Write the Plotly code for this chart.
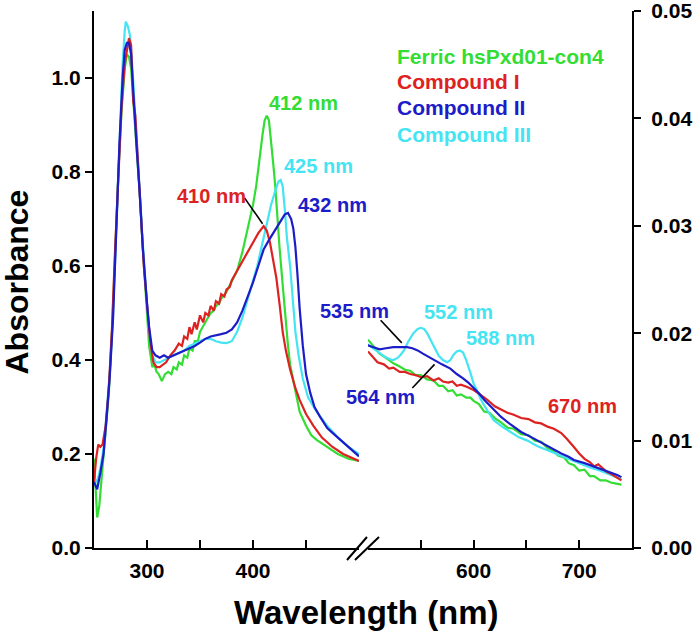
import plotly.graph_objects as go

# ---------------- data ----------------
# Left segment (250-500 nm), absorbance on left axis
green_nm_L = [250, 252, 253, 255, 258, 261, 264, 267, 270, 273, 276, 279, 281, 283, 285, 287, 290, 293, 296, 299,
              302, 305, 307, 309, 311, 314, 317, 320, 323, 325, 328, 330, 333, 335, 338, 340, 343, 345, 348, 350,
              355, 360, 363, 365, 368, 370, 375, 381, 385, 390, 395, 400, 403, 406, 409, 411, 413, 415, 417, 419,
              421, 423, 425, 428, 430, 433, 435, 440, 444, 450, 455, 460, 470, 480, 490, 500]
green_A_L = [0.19, 0.10, 0.065, 0.09, 0.17, 0.24, 0.33, 0.46, 0.64, 0.80, 0.93, 1.02, 1.05, 1.045, 1.02, 0.96, 0.86, 0.76, 0.64, 0.53,
             0.43, 0.385, 0.39, 0.375, 0.37, 0.355, 0.37, 0.375, 0.37, 0.385, 0.38, 0.395, 0.39, 0.41, 0.405, 0.425, 0.42, 0.44, 0.44, 0.46,
             0.48, 0.50, 0.505, 0.515, 0.52, 0.53, 0.545, 0.57, 0.59, 0.63, 0.68, 0.73, 0.77, 0.83, 0.88, 0.91, 0.92, 0.91, 0.87, 0.82,
             0.77, 0.70, 0.64, 0.56, 0.50, 0.43, 0.39, 0.33, 0.29, 0.26, 0.24, 0.23, 0.215, 0.20, 0.19, 0.185]

red_nm_L = [250, 252, 254, 256, 258, 261, 264, 267, 270, 273, 276, 279, 281, 283, 285, 287, 289, 291, 294, 297,
            300, 303, 306, 309, 312, 315, 318, 322, 326, 330, 333, 335, 338, 340, 342, 345, 347, 350, 353, 355,
            358, 360, 363, 365, 368, 370, 373, 375, 378, 380, 385, 390, 395, 400, 405, 410, 413, 416, 419, 422,
            425, 428, 431, 435, 440, 444, 450, 457, 465, 475, 485, 490, 500]
red_A_L = [0.14, 0.19, 0.22, 0.215, 0.22, 0.26, 0.34, 0.47, 0.64, 0.80, 0.94, 1.03, 1.06, 1.085, 1.07, 0.95, 0.92, 0.84, 0.72, 0.60,
           0.52, 0.44, 0.395, 0.385, 0.385, 0.39, 0.395, 0.41, 0.42, 0.435, 0.43, 0.45, 0.445, 0.47, 0.455, 0.48, 0.465, 0.495, 0.48, 0.50,
           0.495, 0.515, 0.505, 0.525, 0.52, 0.54, 0.535, 0.55, 0.555, 0.57, 0.59, 0.61, 0.63, 0.65, 0.67, 0.685, 0.675, 0.65, 0.615, 0.575,
           0.52, 0.46, 0.42, 0.38, 0.34, 0.315, 0.285, 0.26, 0.235, 0.215, 0.20, 0.195, 0.185]

cyan_nm_L = [250, 253, 256, 259, 262, 265, 268, 271, 274, 277, 279, 280, 282, 284, 286, 288, 290, 293, 296, 299,
             302, 305, 308, 312, 316, 320, 325, 330, 335, 340, 345, 350, 355, 360, 365, 370, 375, 380, 385, 390,
             395, 400, 404, 408, 413, 417, 421, 424, 426, 428, 430, 432, 435, 438, 440, 443, 447, 452, 460, 470,
             480, 490, 500]
cyan_A_L = [0.15, 0.14, 0.17, 0.21, 0.29, 0.38, 0.50, 0.69, 0.88, 1.03, 1.10, 1.12, 1.11, 1.09, 1.03, 0.95, 0.87, 0.76, 0.65, 0.55,
            0.46, 0.41, 0.395, 0.395, 0.40, 0.405, 0.41, 0.415, 0.42, 0.43, 0.435, 0.44, 0.445, 0.445, 0.44, 0.437, 0.436, 0.44, 0.46, 0.49,
            0.53, 0.57, 0.60, 0.64, 0.69, 0.73, 0.76, 0.78, 0.783, 0.77, 0.72, 0.66, 0.60, 0.52, 0.46, 0.41, 0.36, 0.32, 0.29, 0.26,
            0.235, 0.215, 0.20]

blue_nm_L = [250, 253, 256, 259, 262, 265, 268, 271, 274, 277, 279, 281, 283, 285, 287, 290, 293, 296, 300, 302,
             305, 308, 312, 316, 320, 325, 330, 335, 340, 345, 350, 355, 360, 365, 370, 375, 380, 385, 390, 395,
             400, 405, 410, 415, 419, 423, 427, 430, 433, 436, 438, 440, 442, 444, 447, 450, 454, 458, 463, 470,
             475, 485, 490, 500]
blue_A_L = [0.14, 0.125, 0.16, 0.20, 0.28, 0.37, 0.49, 0.68, 0.86, 1.00, 1.06, 1.075, 1.075, 1.05, 0.97, 0.86, 0.76, 0.64, 0.52, 0.47,
            0.42, 0.41, 0.405, 0.41, 0.405, 0.41, 0.415, 0.42, 0.425, 0.43, 0.437, 0.445, 0.45, 0.452, 0.455, 0.458, 0.465, 0.48, 0.505, 0.535,
            0.565, 0.60, 0.635, 0.655, 0.67, 0.685, 0.70, 0.71, 0.713, 0.70, 0.68, 0.64, 0.58, 0.51, 0.43, 0.37, 0.33, 0.30, 0.28, 0.255,
            0.245, 0.225, 0.215, 0.195]

# Right segment (500-740 nm), absorbance on right axis
green_nm_R = [500, 505, 511, 517, 524, 530, 535, 540, 545, 550, 556, 562, 567, 571, 576, 580, 584, 588, 593, 597,
              600, 605, 610, 615, 620, 626, 632, 638, 645, 652, 658, 664, 670, 676, 680, 686, 690, 695, 700, 705,
              710, 714, 720, 725, 730, 735, 740]
green_v_R = [0.0194, 0.0188, 0.0181, 0.0177, 0.0172, 0.0169, 0.0166, 0.0165, 0.0161, 0.0161, 0.0157, 0.0156, 0.0151, 0.0151, 0.0146, 0.0147, 0.0142, 0.0143, 0.0140, 0.0140,
             0.0137, 0.0134, 0.0127, 0.0126, 0.0121, 0.0117, 0.0112, 0.0111, 0.0106, 0.0105, 0.0100, 0.0099, 0.0093, 0.0090, 0.0086, 0.0084, 0.0079, 0.0077, 0.0072, 0.0073,
             0.0067, 0.0067, 0.0063, 0.0063, 0.0061, 0.0060, 0.0059]

red_nm_R = [500, 505, 509, 515, 520, 524, 530, 535, 540, 545, 550, 556, 562, 567, 571, 576, 580, 584, 588, 594,
            600, 606, 613, 620, 626, 632, 638, 645, 652, 658, 664, 670, 676, 683, 688, 692, 695, 700, 705, 710,
            714, 718, 722, 726, 730, 735, 740]
red_v_R = [0.0183, 0.0177, 0.0173, 0.0171, 0.0167, 0.0168, 0.0164, 0.0164, 0.0162, 0.0161, 0.0159, 0.0160, 0.0156, 0.0158, 0.0155, 0.0154, 0.0155, 0.0151, 0.0152, 0.0150,
           0.0147, 0.0143, 0.0138, 0.0132, 0.0129, 0.0126, 0.0124, 0.0121, 0.0120, 0.0117, 0.0116, 0.0113, 0.0111, 0.0107, 0.0102, 0.0098, 0.0094, 0.0088, 0.0083, 0.0080,
           0.0076, 0.0078, 0.0074, 0.0071, 0.0069, 0.0066, 0.0063]

cyan_nm_R = [499, 503, 507, 511, 516, 520, 524, 528, 531, 534, 538, 543, 547, 550, 553, 556, 559, 563, 567, 571,
             575, 578, 581, 584, 587, 590, 593, 597, 600, 604, 607, 613, 619, 627, 635, 643, 651, 660, 670, 680,
             690, 700, 710, 720, 730, 740]
cyan_v_R = [0.0190, 0.0187, 0.0184, 0.0181, 0.0178, 0.0176, 0.0175, 0.0177, 0.0180, 0.0184, 0.0192, 0.0200, 0.0204, 0.0205, 0.0204, 0.0200, 0.0194, 0.0186, 0.0179, 0.0175,
            0.0173, 0.0175, 0.0180, 0.0183, 0.0184, 0.0182, 0.0175, 0.0163, 0.0153, 0.0145, 0.0138, 0.0128, 0.0119, 0.0113, 0.0108, 0.0103, 0.0100, 0.0095, 0.0091, 0.0087,
            0.0083, 0.0079, 0.0075, 0.0072, 0.0068, 0.0064]

blue_nm_R = [499, 505, 511, 517, 524, 530, 537, 542, 547, 552, 557, 562, 570, 578, 584, 590, 595, 600, 605, 610,
             618, 626, 635, 645, 655, 664, 673, 683, 690, 695, 705, 714, 722, 730, 736, 740]
blue_v_R = [0.0189, 0.0187, 0.0185, 0.0186, 0.0187, 0.0187, 0.0187, 0.0186, 0.0184, 0.0181, 0.0178, 0.0175, 0.0171, 0.0167, 0.0162, 0.0158, 0.0154, 0.0149, 0.0144, 0.0138,
            0.0130, 0.0122, 0.0115, 0.0108, 0.0103, 0.0098, 0.0093, 0.0088, 0.0085, 0.0082, 0.0079, 0.0076, 0.0073, 0.0070, 0.0068, 0.0066]

series_names = ["Ferric hsPxd01-con4", "Compound I", "Compound II", "Compound III"]
left_ticks_x = [300, 350, 400, 450]
left_ticktext_x = ["300", "", "400", ""]
right_ticks_x = [550, 600, 650, 700]
right_ticktext_x = ["", "600", "", "700"]
left_ticks_y = [0.0, 0.2, 0.4, 0.6, 0.8, 1.0]
left_ticktext_y = ["0.0", "0.2", "0.4", "0.6", "0.8", "1.0"]
right_ticks_y = [0.00, 0.01, 0.02, 0.03, 0.04, 0.05]
right_ticktext_y = ["0.00", "0.01", "0.02", "0.03", "0.04", "0.05"]

GREEN = "#33dd33"
RED = "#dd2222"
BLUE = "#1c1cc8"
CYAN = "#44e4f2"
FONT = "Arial, 'Liberation Sans', sans-serif"

fig = go.Figure()
lw = 2.2
for nm, A, col, name in [(green_nm_L, green_A_L, GREEN, series_names[0]),
                         (cyan_nm_L, cyan_A_L, CYAN, series_names[3]),
                         (red_nm_L, red_A_L, RED, series_names[1]),
                         (blue_nm_L, blue_A_L, BLUE, series_names[2])]:
    fig.add_trace(go.Scatter(x=nm, y=A, mode="lines", line=dict(color=col, width=lw),
                             name=name, xaxis="x", yaxis="y", showlegend=False))
for nm, v, col, name in [(green_nm_R, green_v_R, GREEN, series_names[0]),
                         (cyan_nm_R, cyan_v_R, CYAN, series_names[3]),
                         (red_nm_R, red_v_R, RED, series_names[1]),
                         (blue_nm_R, blue_v_R, BLUE, series_names[2])]:
    fig.add_trace(go.Scatter(x=nm, y=v, mode="lines", line=dict(color=col, width=lw),
                             name=name, xaxis="x2", yaxis="y2", showlegend=False))

tickfont = dict(family=FONT, size=21, color="black", weight="bold")
axis_common = dict(showgrid=False, zeroline=False, showline=True, linecolor="black", linewidth=2,
                   tickcolor="black", tickwidth=2, tickfont=tickfont, automargin=False,
                   ticklabeloverflow="allow")

fig.update_layout(
    width=693, height=637, autosize=False,
    margin=dict(l=94, r=61, t=11, b=89),
    paper_bgcolor="white", plot_bgcolor="white",
    showlegend=False,
    xaxis=dict(domain=[0, 0.4926], range=[250, 500], anchor="y", tickmode="array",
               tickvals=left_ticks_x, ticktext=left_ticktext_x, ticks="inside", ticklen=8,
               ticklabelstandoff=3, **axis_common),
    xaxis2=dict(domain=[0.5093, 1], range=[500, 750], anchor="y2", tickmode="array",
                tickvals=right_ticks_x, ticktext=right_ticktext_x, ticks="inside", ticklen=8,
                ticklabelstandoff=3, **axis_common),
    yaxis=dict(domain=[0, 1], range=[0, 1.1426], anchor="x", side="left", tickmode="array",
               tickvals=left_ticks_y, ticktext=left_ticktext_y, ticks="outside", ticklen=7, **axis_common),
    yaxis2=dict(domain=[0, 1], range=[0, 0.05], anchor="x2", side="right", tickmode="array",
                tickvals=right_ticks_y, ticktext=right_ticktext_y, ticks="outside", ticklen=7,
                ticklabelstandoff=6, **axis_common),
)

ann_font = lambda c, s=20: dict(family=FONT, size=s, color=c, weight="bold")
annotations = [
    dict(x=0.3903, y=0.8287, text="412 nm", font=ann_font(GREEN)),
    dict(x=0.4182, y=0.7114, text="425 nm", font=ann_font(CYAN)),
    dict(x=0.4442, y=0.6387, text="432 nm", font=ann_font(BLUE)),
    dict(x=0.2175, y=0.6555, text="410 nm", font=ann_font(RED)),
    dict(x=0.4851, y=0.4413, text="535 nm", font=ann_font(BLUE)),
    dict(x=0.6766, y=0.4395, text="552 nm", font=ann_font(CYAN)),
    dict(x=0.7565, y=0.3911, text="588 nm", font=ann_font(CYAN)),
    dict(x=0.5316, y=0.2812, text="564 nm", font=ann_font(BLUE)),
    dict(x=0.9071, y=0.2644, text="670 nm", font=ann_font(RED)),
]
legend_y = [0.9162, 0.8678, 0.8194, 0.7709]
legend_cols = [GREEN, RED, BLUE, CYAN]
for name, yy, col in zip(series_names, legend_y, legend_cols):
    annotations.append(dict(x=0.5595, y=yy, text=name, xanchor="left", font=ann_font(col, 21)))
annotations.append(dict(x=0.5056, y=-0.1192, text="Wavelength (nm)",
                        font=dict(family=FONT, size=33, color="black", weight="bold")))
annotations.append(dict(x=-0.1425, y=0.495, text="Absorbance", textangle=-90,
                        font=dict(family=FONT, size=32, color="black", weight="bold")))
for a in annotations:
    a.setdefault("xref", "paper")
    a.setdefault("yref", "paper")
    a.setdefault("xanchor", "center")
    a.setdefault("yanchor", "middle")
    a["showarrow"] = False
fig.update_layout(annotations=annotations)

shapes = [
    # leader lines
    dict(type="line", xref="x", yref="y", x0=392, y0=0.745, x1=409, y1=0.69),
    dict(type="line", xref="x2", yref="y2", x0=512, y0=0.0212, x1=532, y1=0.0191),
    dict(type="line", xref="x2", yref="y2", x0=542, y0=0.0149, x1=563, y1=0.0171),
    # axis break marks
    dict(type="line", xref="paper", yref="paper", x0=0.4703, y0=-0.0223, x1=0.5074, y1=0.0205),
    dict(type="line", xref="paper", yref="paper", x0=0.4851, y0=-0.0223, x1=0.5297, y1=0.0205),
]
for s in shapes:
    s["line"] = dict(color="black", width=1.6 if s["xref"] != "paper" else 2)
fig.update_layout(shapes=shapes)

fig.write_html("out.html", config={"displayModeBar": False},
               post_script="document.body.style.margin='0px';document.body.style.padding='0px';")
